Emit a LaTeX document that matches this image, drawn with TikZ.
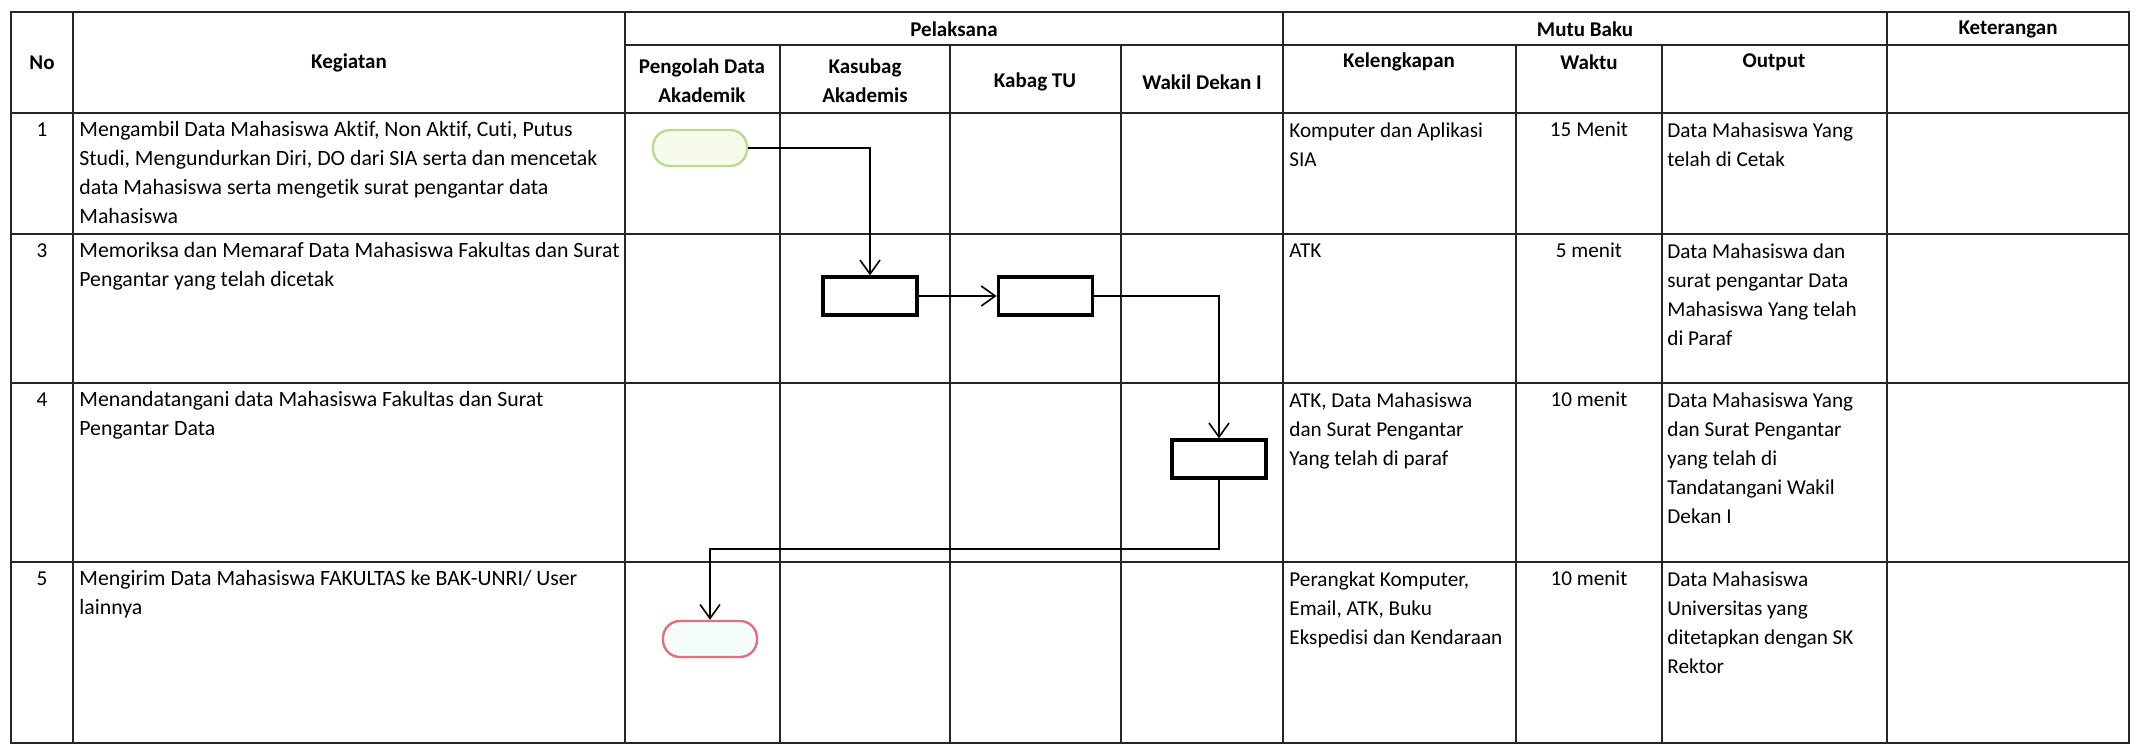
\documentclass[tikz,border=0pt]{standalone}
\usepackage{fontspec}
\setmainfont{Carlito}[Ligatures=NoCommon]
\usetikzlibrary{positioning,arrows.meta}
\definecolor{gridline}{HTML}{262626}
\definecolor{startgreen}{HTML}{B9DC8C}
\definecolor{startfill}{HTML}{F6FBEC}
\definecolor{endred}{HTML}{E0707C}
\definecolor{endfill}{HTML}{F4FCFC}
\tikzset{
    every node/.style={font=\fontsize{10.6}{14.5}\selectfont},
    grid/.style={draw=gridline,line width=1.2pt},
    head/.style={font=\fontsize{10.5}{14.5}\selectfont\bfseries,align=center,inner sep=0pt},
    celltext/.style={anchor=north west,align=left,inner sep=0pt},
    kegtext/.style={celltext,font=\fontsize{10.9}{14.5}\selectfont},
    numtext/.style={anchor=north,inner sep=0pt},
    terminal/.style={rectangle,rounded corners=8.5pt,minimum width=47pt,minimum height=18pt,line width=1.2pt},
    startbox/.style={terminal,draw=startgreen,fill=startfill},
    endbox/.style={terminal,draw=endred,fill=endfill},
    task/.style={rectangle,draw,line width=1.6pt,minimum width=47pt,minimum height=19pt,fill=white},
    flow/.style={draw,line width=0.8pt,-{Straight Barb[length=7pt,width=10pt]}}
}
\begin{document}
\begin{tikzpicture}[x=0.5pt,y=-0.5pt]
    \useasboundingbox (0,0) rectangle (2136,745);
    % table
    \draw[grid] (11,12) rectangle (2129,743);
    \draw[grid] (625,45) -- (2129,45);
    \draw[grid] (11,113) -- (2129,113);
    \draw[grid] (11,234) -- (2129,234);
    \draw[grid] (11,383) -- (2129,383);
    \draw[grid] (11,562) -- (2129,562);
    \draw[grid] (73,12) -- (73,743);
    \draw[grid] (625,12) -- (625,743);
    \draw[grid] (780,45) -- (780,743);
    \draw[grid] (950,45) -- (950,743);
    \draw[grid] (1121,45) -- (1121,743);
    \draw[grid] (1283,12) -- (1283,743);
    \draw[grid] (1516,45) -- (1516,743);
    \draw[grid] (1662,45) -- (1662,743);
    \draw[grid] (1887,12) -- (1887,743);

    \node[head] (hno) at (42,63) {No};
    \node[head] (hkeg) at (349,63) {Kegiatan};
    \node[head] (hpel) at (954,29) {Pelaksana};
    \node[head] (hmutu) at (1585,29) {Mutu Baku};
    \node[head] (hket) at (2008,29) {Keterangan};
    \node[head] (hpda) at (702,81) {Pengolah Data\\Akademik};
    \node[head] (hksb) at (865,81) {Kasubag\\Akademis};
    \node[head] (hktu) at (1035,82) {Kabag TU};
    \node[head] (hwd) at (1202,82) {Wakil Dekan I};
    \node[head] (hkel) at (1399,62) {Kelengkapan};
    \node[head] (hwkt) at (1589,62) {Waktu};
    \node[head] (hout) at (1774,62) {Output};

    \node[numtext] (n1) at (42,122) {1};
    \node[kegtext] (k1) at (79,121) {Mengambil Data Mahasiswa Aktif, Non Aktif, Cuti, Putus\\Studi, Mengundurkan Diri, DO dari SIA serta dan mencetak\\data Mahasiswa serta mengetik surat pengantar data\\Mahasiswa};
    \node[celltext] (l1) at (1289,122) {Komputer dan Aplikasi\\SIA};
    \node[numtext] (w1) at (1589,122) {15 Menit};
    \node[celltext] (o1) at (1667,122) {Data Mahasiswa Yang\\telah di Cetak};

    \node[numtext] (n3) at (42,243) {3};
    \node[kegtext] (k3) at (79,242) {Memoriksa dan Memaraf Data Mahasiswa Fakultas dan Surat\\Pengantar yang telah dicetak};
    \node[celltext] (l3) at (1289,243) {ATK};
    \node[numtext] (w3) at (1589,243) {5 menit};
    \node[celltext] (o3) at (1667,243) {Data Mahasiswa dan\\surat pengantar Data\\Mahasiswa Yang telah\\di Paraf};

    \node[numtext] (n4) at (42,392) {4};
    \node[kegtext] (k4) at (79,391) {Menandatangani data Mahasiswa Fakultas dan Surat\\Pengantar Data};
    \node[celltext] (l4) at (1289,392) {ATK, Data Mahasiswa\\dan Surat Pengantar\\Yang telah di paraf};
    \node[numtext] (w4) at (1589,392) {10 menit};
    \node[celltext] (o4) at (1667,392) {Data Mahasiswa Yang\\dan Surat Pengantar\\yang telah di\\Tandatangani Wakil\\Dekan I};

    \node[numtext] (n5) at (42,571) {5};
    \node[kegtext] (k5) at (79,570) {Mengirim Data Mahasiswa FAKULTAS ke BAK-UNRI/ User\\lainnya};
    \node[celltext] (l5) at (1289,571) {Perangkat Komputer,\\Email, ATK, Buku\\Ekspedisi dan Kendaraan};
    \node[numtext] (w5) at (1589,571) {10 menit};
    \node[celltext] (o5) at (1667,571) {Data Mahasiswa\\Universitas yang\\ditetapkan dengan SK\\Rektor};

    % flow
    \node[startbox] (start) at (700,148) {};
    \node[task] (paraf) at (870,296) {};
    \node[task,right=39pt of paraf] (cek) {};
    \node[task] (ttd) at (1219,459) {};
    \node[endbox] (kirim) at (710,639) {};
    \coordinate (turn) at (1219,549);
    \draw[flow] (start) -| (paraf);
    \draw[flow] (paraf) -- (cek);
    \draw[flow] (cek) -| (ttd);
    \draw[flow] (ttd) -- (turn) -| (kirim);
\end{tikzpicture}
\end{document}
